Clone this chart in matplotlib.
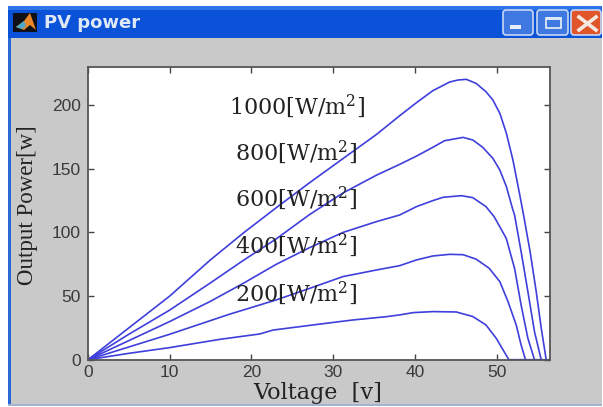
import matplotlib
matplotlib.use("Agg")
import matplotlib.pyplot as plt
from matplotlib.patches import Rectangle, FancyBboxPatch, Polygon

plt.rcParams['mathtext.default'] = 'regular'

V_1000 = [0, 5, 10, 14.9, 19, 23.05, 27.1, 31.2, 35.3, 38.1, 40.2, 42.2, 44.25, 45.3, 46.3, 47.5, 48.7, 49.55,
          50.4, 51.2, 52, 52.8, 53.3, 54.1, 54.85, 55.46, 56.07]
P_1000 = [0, 25, 50, 78, 99.5, 119.5, 139, 158, 177, 191.5, 202, 211.4, 218.2, 219.8, 220.3, 217.1, 210.6, 204,
          193.6, 177.9, 156.9, 130.7, 113.7, 85, 53.5, 25, 0]
V_800 = [0, 5, 10, 14.9, 19, 23.05, 27.1, 31.2, 35.3, 38.14, 40.2, 42.2, 43.64, 45.9, 47.1, 48.3, 49.55, 50.4,
         51.2, 52, 52.2, 53, 53.83, 54.64, 55.46]
P_800 = [0, 20, 39, 60, 78, 95, 114, 131, 145, 153.5, 160, 166.9, 172.1, 174.7, 172.6, 166.9, 158.2, 149,
         136, 117.6, 113.7, 85, 53.5, 22, 0]
V_600 = [0, 5, 10, 14.9, 19, 23.05, 27.1, 31.2, 35.3, 38.14, 40.2, 42.2, 43.44, 45.7, 47.1, 48.7, 49.7,
         51.18, 52.2, 53, 53.83, 54.64]
P_600 = [0, 15, 30, 45.6, 60, 75, 88, 100, 108.5, 113.7, 120.3, 125, 127.6, 128.9, 127.3, 120.3, 112.4,
         95.4, 71.8, 43, 16.8, 0]
V_400 = [0, 5, 10, 17.3, 23.05, 27.1, 31.2, 35.3, 38.14, 40.2, 42.2, 44.25, 45.9, 47.5, 49.1, 50.4,
         51.4, 52.4, 53, 53.54]
P_400 = [0, 10, 20, 35.7, 47, 56, 65.3, 70.5, 73.9, 78.4, 81.5, 82.8, 82.5, 79, 71.8, 61.3,
         45.6, 27.3, 11.6, 0]
V_200 = [0, 5, 10, 16.14, 21, 22.66, 28.4, 32.4, 36.5, 38.14, 39.8, 42.2, 45.07, 47.1, 48.7, 49.96, 51.5, 56.4]
P_200 = [0, 5, 9.5, 16, 20.2, 23.3, 28, 31.2, 33.8, 35.2, 37, 37.8, 37.5, 33.9, 27.3, 16.8, 0, 0]
series = [(V_1000, P_1000), (V_800, P_800), (V_600, P_600), (V_400, P_400), (V_200, P_200)]

irradiance_labels = ['1000[W/m$^2$]', '800[W/m$^2$]', '600[W/m$^2$]', '400[W/m$^2$]', '200[W/m$^2$]']
label_x = [17.2, 17.97, 17.97, 17.97, 17.97]
label_y = [193, 156.9, 121, 83.6, 46.1]
x_ticks = [0, 10, 20, 30, 40, 50]
y_ticks = [0, 50, 100, 150, 200]

W, H = 603, 407
fig = plt.figure(figsize=(W / 100, H / 100), dpi=100, facecolor='white')

# window chrome, in pixel coordinates
bg = fig.add_axes([0, 0, 1, 1])
bg.set_xlim(0, W)
bg.set_ylim(H, 0)
bg.axis('off')
bg.add_patch(Rectangle((7.5, 6), 594, 399, fc='#c9c9c9', ec='none'))
bg.add_patch(Rectangle((7.5, 6), 594, 32, fc='#0a52d8', ec='none'))
bg.add_patch(Rectangle((7.5, 6), 594, 4, fc='#2f74e8', ec='none'))
bg.add_patch(Rectangle((7.5, 38), 3.2, 367, fc='#2a68d8', ec='none'))
bg.add_patch(Rectangle((7.5, 404), 594, 1.5, fc='#9fb4d0', ec='none'))
bg.add_patch(Rectangle((13, 13), 24, 19, fc='#101018', ec='none'))
bg.add_patch(Polygon([(16, 27), (24, 21), (30, 13), (36, 30), (30, 25), (24, 30)], fc='#e8882a', ec='none'))
bg.add_patch(Polygon([(16, 27), (24, 21), (26, 26), (22, 29)], fc='#4aa8c8', ec='none'))
bg.text(43.5, 23, 'PV power', color='#dfe8f6', fontsize=13, fontweight='bold',
        family='DejaVu Sans', va='center', ha='left')
for x0, w0, fc in [(503, 30, '#3f78e0'), (537, 31, '#3f78e0'), (571, 30, '#e0562a')]:
    bg.add_patch(FancyBboxPatch((x0, 10), w0, 25, boxstyle='round,pad=0,rounding_size=3',
                                fc=fc, ec='#c8d8f4', lw=1.2))
bg.add_patch(Rectangle((510, 24.5), 11, 4.5, fc='#e8eef8', ec='none'))
bg.add_patch(Rectangle((545.5, 18), 15, 10, fc='none', ec='#dfe8f6', lw=1.3))
bg.add_patch(Rectangle((545.5, 17), 15, 3, fc='#dfe8f6', ec='none'))
bg.plot([579, 596], [17, 30], color='#f4e8e0', lw=2.6)
bg.plot([579, 596], [30, 17], color='#f4e8e0', lw=2.6)

left, right, top, bottom = 88, 549.7, 67, 359.7
ax = fig.add_axes([left / W, 1 - bottom / H, (right - left) / W, (bottom - top) / H])
for v, p in series:
    ax.plot(v, p, color='#3f3fdc', lw=1.2)
ax.set_xlim(0, 56.5)
ax.set_ylim(0, 230)
ax.set_xticks(x_ticks)
ax.set_yticks(y_ticks)
ax.tick_params(direction='in', length=4, width=1, top=True, right=True, color='#444444',
               labelcolor='#3a3a3a', labelsize=12.5, pad=5)
ax.tick_params(axis='x', pad=4)
for lab in ax.get_xticklabels() + ax.get_yticklabels():
    lab.set_family('Liberation Sans')
for s in ax.spines.values():
    s.set_color('#555555')
    s.set_linewidth(1.3)
for t, x, y in zip(irradiance_labels, label_x, label_y):
    ax.text(x, y, t, family='DejaVu Serif', fontsize=16, color='#222222', va='baseline', ha='left')
ax.set_xlabel('Voltage  [v]', family='DejaVu Serif', fontsize=16, color='#222222', va='baseline')
ax.xaxis.set_label_coords(0.497, -0.134)
ax.set_ylabel('Output Power[w]', family='Liberation Serif', fontsize=16.5, color='#222222', va='baseline')
ax.yaxis.set_label_coords(-0.119, 0.527)
fig.savefig('out.png', dpi=100, facecolor='white')
